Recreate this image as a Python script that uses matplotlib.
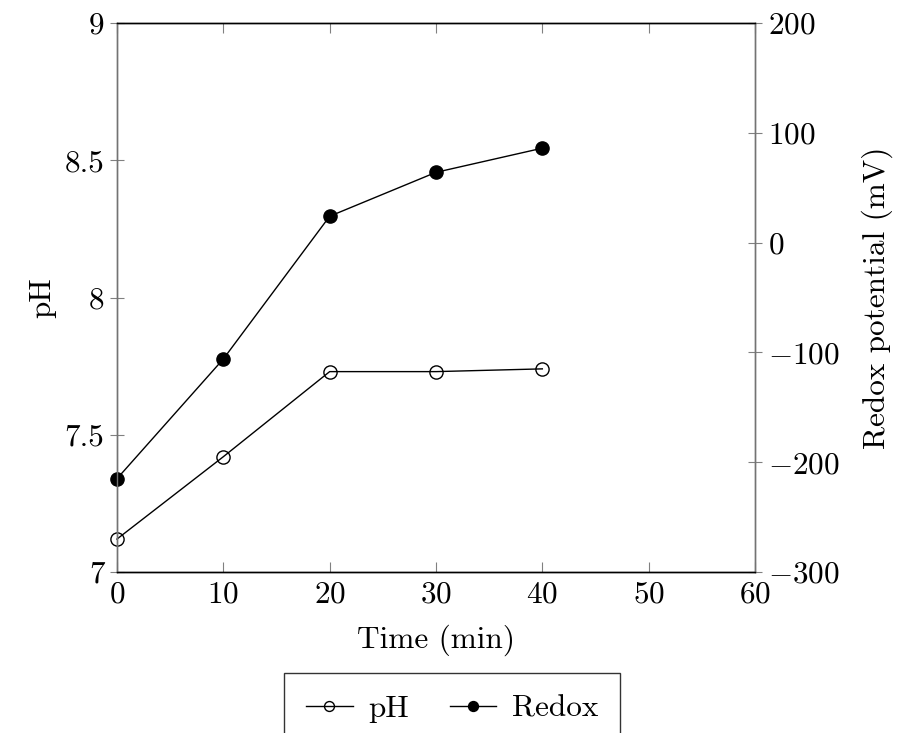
import matplotlib
matplotlib.use("Agg")
import matplotlib.pyplot as plt

# data
time_min = [0, 10, 20, 30, 40]
ph = [7.12, 7.42, 7.73, 7.73, 7.74]
redox_mv = [-215, -106, 24, 64, 86]

plt.rcParams['font.family'] = 'serif'
plt.rcParams['font.serif'] = ['cmr10']
plt.rcParams['mathtext.fontset'] = 'cm'
plt.rcParams['axes.formatter.use_mathtext'] = True
plt.rcParams['axes.unicode_minus'] = True

fig = plt.figure(figsize=(8.98, 7.33), dpi=100)
ax = fig.add_axes([117/898, 1 - 572/733, (755-117)/898, (572-23)/733])
ax2 = ax.twinx()

l1, = ax.plot(time_min, ph, color='black', lw=1, marker='o', ms=9.5,
              mfc='none', mec='black', mew=1, label='pH', clip_on=False)
l2, = ax2.plot(time_min, redox_mv, color='black', lw=1, marker='o', ms=9.5,
               mfc='black', mec='black', label='Redox', clip_on=False)

ax.set_xlim(0, 60)
ax.set_ylim(7, 9)
ax2.set_ylim(-300, 200)
ax.set_xticks([0, 10, 20, 30, 40, 50, 60])
ax.set_yticks([7, 7.5, 8, 8.5, 9])
ax.set_yticklabels(['7', '7.5', '8', '8.5', '9'])
ax2.set_yticks([-300, -200, -100, 0, 100, 200])

fs = 22.5
ax.tick_params(axis='x', direction='in', length=7, color='0.5', labelsize=fs,
               top=True, pad=6)
ax.tick_params(axis='y', direction='inout', length=10, color='0.5', labelsize=fs, pad=4)
ax2.tick_params(axis='y', direction='inout', length=10, color='0.5', labelsize=fs, pad=4)

for a in (ax, ax2):
    a.spines['left'].set_color('0.45')
    a.spines['right'].set_color('0.45')
    for s in a.spines.values():
        s.set_linewidth(1)

ax.set_xlabel('Time (min)', fontsize=fs, labelpad=12)
ax.set_ylabel('pH', fontsize=fs, labelpad=6)
ax2.set_ylabel('Redox potential (mV)', fontsize=fs, labelpad=16)

leg = fig.legend(handles=[l1, l2], loc='upper center', ncol=2,
                 bbox_to_anchor=(452/898, 1 - 673/733), fontsize=fs,
                 frameon=True, fancybox=False, edgecolor='black',
                 handlelength=1.5, columnspacing=1.3, borderpad=0.7,
                 handletextpad=0.5, markerscale=0.75, borderaxespad=0)
leg.get_frame().set_linewidth(1)

fig.savefig('out.png', dpi=100)
